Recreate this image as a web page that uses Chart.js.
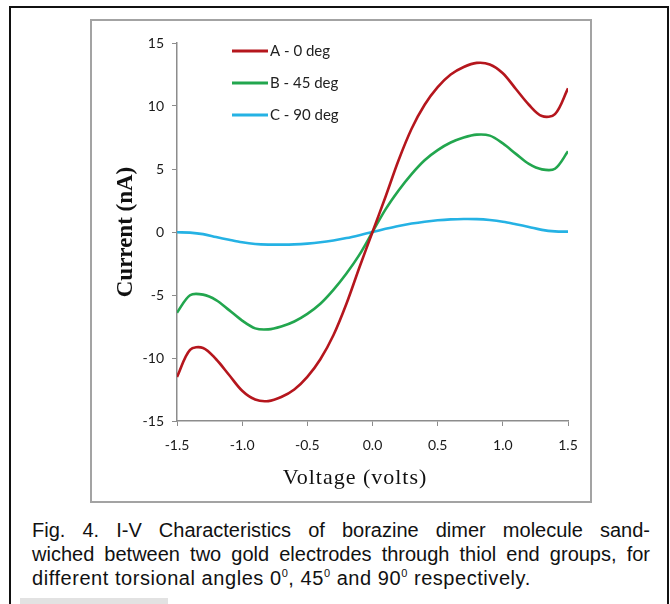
<!DOCTYPE html>
<html>
<head>
<meta charset="utf-8">
<script src="https://cdn.jsdelivr.net/npm/chart.js@4.4.1/dist/chart.umd.min.js"></script>
<style>
  html, body { margin: 0; padding: 0; background: #fff; }
  body { position: relative; width: 670px; height: 604px; overflow: hidden; }
  #outer { position: absolute; left: 9px; top: 6px; width: 660px; height: 700px; border: 2px solid #111; box-sizing: border-box; }
  #frame { position: absolute; left: 90px; top: 19px; width: 502px; height: 484px; border: 2px solid #a3a3a3; box-sizing: border-box; }
  #ivChart { position: absolute; left: 92px; top: 21px; }
  #caption { position: absolute; left: 32px; top: 518px; width: 618px; font: 20px "Liberation Sans", Arial, sans-serif; line-height: 24px; color: #111; }
  #caption div { white-space: nowrap; }
  #caption .just { text-align: justify; text-align-last: justify; white-space: normal; }
  #caption .last { letter-spacing: 0.55px; }
  #caption sup { font-size: 11px; vertical-align: 8px; line-height: 0; }
  #shade { position: absolute; left: 20px; top: 598px; width: 148px; height: 8px; background: #e2e2e2; }
</style>
</head>
<body>
<div id="outer"></div>
<div id="frame"></div>
<canvas id="ivChart" width="498" height="480"></canvas>
<div id="caption">
  <div class="just">Fig. 4. I-V Characteristics of borazine dimer molecule sand-</div>
  <div class="just">wiched between two gold electrodes through thiol end groups, for</div>
  <div class="last">different torsional angles 0<sup>0</sup>, 45<sup>0</sup> and 90<sup>0</sup> respectively.</div>
</div>
<div id="shade"></div>

<script>
// voltage (V) and current (nA)
const voltage = [-1.5, -1.4, -1.3, -1.2, -1.1, -1.0, -0.9, -0.8, -0.7, -0.6, -0.5, -0.4, -0.3, -0.2, -0.1,
  0.0, 0.1, 0.2, 0.3, 0.4, 0.5, 0.6, 0.7, 0.8, 0.9, 1.0, 1.1, 1.2, 1.3, 1.4, 1.5];

const currentA = [-11.5, -9.35, -9.2, -10.1, -11.35, -12.6, -13.3, -13.42, -13.1, -12.5, -11.5, -10.1, -8.2, -5.7, -2.8,
  0, 2.8, 5.7, 8.2, 10.1, 11.5, 12.5, 13.1, 13.42, 13.3, 12.6, 11.35, 10.1, 9.2, 9.35, 11.4];

const currentB = [-6.4, -5.02, -4.97, -5.4, -6.2, -7.03, -7.65, -7.73, -7.5, -7.1, -6.5, -5.7, -4.6, -3.3, -1.8,
  0, 1.8, 3.3, 4.6, 5.7, 6.5, 7.1, 7.5, 7.73, 7.65, 7.03, 6.2, 5.4, 4.97, 5.02, 6.4];

const currentC = [-0.02, -0.05, -0.17, -0.4, -0.62, -0.82, -0.95, -1.0, -1.0, -0.98, -0.92, -0.82, -0.67, -0.48, -0.25,
  0, 0.25, 0.48, 0.67, 0.82, 0.93, 1.0, 1.03, 1.02, 0.95, 0.82, 0.62, 0.4, 0.17, 0.05, 0.03];

const seriesLabels = ['A - 0 deg', 'B - 45 deg', 'C - 90 deg'];
const seriesColors = ['#b5161d', '#22a64e', '#25b2e4'];

const toPoints = arr => arr.map((y, i) => ({x: voltage[i], y}));

const axisColor = '#8c8c8c';
const tickFont = {family: 'Lato', size: 14};

// legend drawn inside the plot area, like the original
const insideLegend = {
  id: 'insideLegend',
  afterDraw(chart) {
    const ctx = chart.ctx;
    const a = chart.chartArea;
    ctx.save();
    ctx.font = '15px Lato';
    ctx.textBaseline = 'middle';
    ctx.textAlign = 'left';
    chart.data.datasets.forEach((ds, i) => {
      const y = a.top + 8 + i * 32;
      ctx.strokeStyle = ds.borderColor;
      ctx.lineWidth = 3;
      ctx.beginPath();
      ctx.moveTo(a.left + 55, y);
      ctx.lineTo(a.left + 91, y);
      ctx.stroke();
      ctx.fillStyle = '#222';
      ctx.fillText(ds.label, a.left + 93, y);
    });
    ctx.restore();
  }
};

// x title sits a little left of the plot centre in the original
const xTitle = {
  id: 'xTitle',
  afterDraw(chart) {
    const ctx = chart.ctx;
    const a = chart.chartArea;
    ctx.save();
    ctx.font = '22px "Liberation Serif"';
    ctx.letterSpacing = '1px';
    ctx.fillStyle = '#111';
    ctx.textAlign = 'center';
    ctx.textBaseline = 'middle';
    ctx.fillText('Voltage (volts)', a.left + 178, a.bottom + 57);
    ctx.restore();
  }
};

new Chart(document.getElementById('ivChart'), {
  type: 'line',
  data: {
    datasets: [currentA, currentB, currentC].map((arr, i) => ({
      label: seriesLabels[i],
      data: toPoints(arr),
      borderColor: seriesColors[i],
      backgroundColor: seriesColors[i],
      borderWidth: 2.6,
      pointRadius: 0,
      tension: 0.33,
      fill: false
    }))
  },
  options: {
    responsive: false,
    animation: false,
    devicePixelRatio: 1,
    layout: {padding: {left: 0, top: 22, right: 22, bottom: 0}},
    plugins: {
      legend: {display: false},
      tooltip: {enabled: false}
    },
    scales: {
      x: {
        type: 'linear',
        min: -1.5,
        max: 1.5,
        afterFit: s => { s.height = 80; },
        ticks: {
          stepSize: 0.5,
          padding: 11,
          color: '#1a1a1a',
          font: tickFont,
          callback: v => v.toFixed(1)
        },
        grid: {display: true, drawOnChartArea: false, drawTicks: true, tickLength: 5, color: axisColor},
        border: {display: true, color: axisColor, width: 1.5}
      },
      y: {
        min: -15,
        max: 15,
        afterFit: s => { s.width = 85; },
        ticks: {
          stepSize: 5,
          padding: 8,
          color: '#1a1a1a',
          font: tickFont
        },
        grid: {display: true, drawOnChartArea: false, drawTicks: true, tickLength: 5, color: axisColor},
        border: {display: true, color: axisColor, width: 1.5},
        title: {
          display: true,
          text: 'Current (nA)',
          color: '#111',
          font: {family: 'Liberation Serif', size: 23, weight: 'bold'},
          padding: {top: 20, bottom: 0}
        }
      }
    }
  },
  plugins: [insideLegend, xTitle]
});
</script>
</body>
</html>
